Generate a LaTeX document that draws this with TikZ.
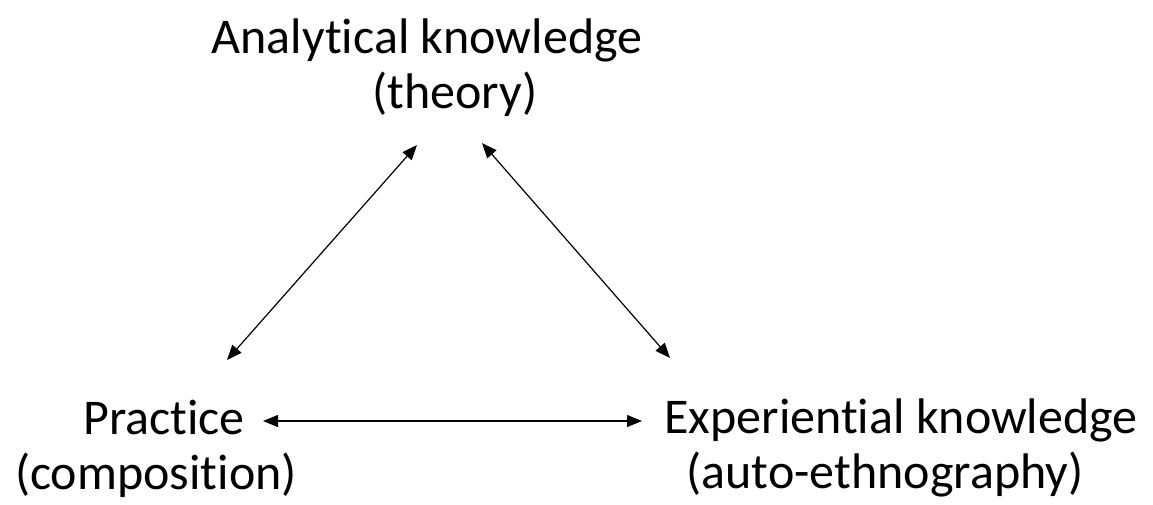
\documentclass[tikz,border=0pt]{standalone}
\usepackage{fontspec}
\setmainfont{Carlito}[RawFeature=-liga]
\usepackage{tikz}
\usetikzlibrary{arrows.meta,positioning,calc}

\begin{document}
\begin{tikzpicture}[
    x=1pt, y=-1pt,
    font=\fontsize{50}{55}\selectfont,
    idea/.style={inner sep=0pt, align=center, text=black},
    link/.style={{Triangle[length=15pt,width=12pt]}-{Triangle[length=15pt,width=12pt]}, line width=1.2pt}
]
\useasboundingbox (0,0) rectangle (1153,504);

\node[idea] (theory) at (427,68) {Analytical knowledge\\\hspace*{56pt}(theory)};
\node[idea] (practice) at (156,449) {\hspace*{16pt}Practice\\(composition)};
\node[idea] (exper) at (901,448) {Experiential knowledge\\(auto-ethnography)\hspace*{32pt}};

\draw[link] ([shift={(-10,77)}]theory.center) -- ([shift={(71,-89)}]practice.center);
\draw[link] ([shift={(55,75)}]theory.center) -- ([shift={(-231,-90)}]exper.center);
\draw[link] ([shift={(107,-28)}]practice.center) -- ([shift={(-259,-27)}]exper.center);
\end{tikzpicture}
\end{document}
